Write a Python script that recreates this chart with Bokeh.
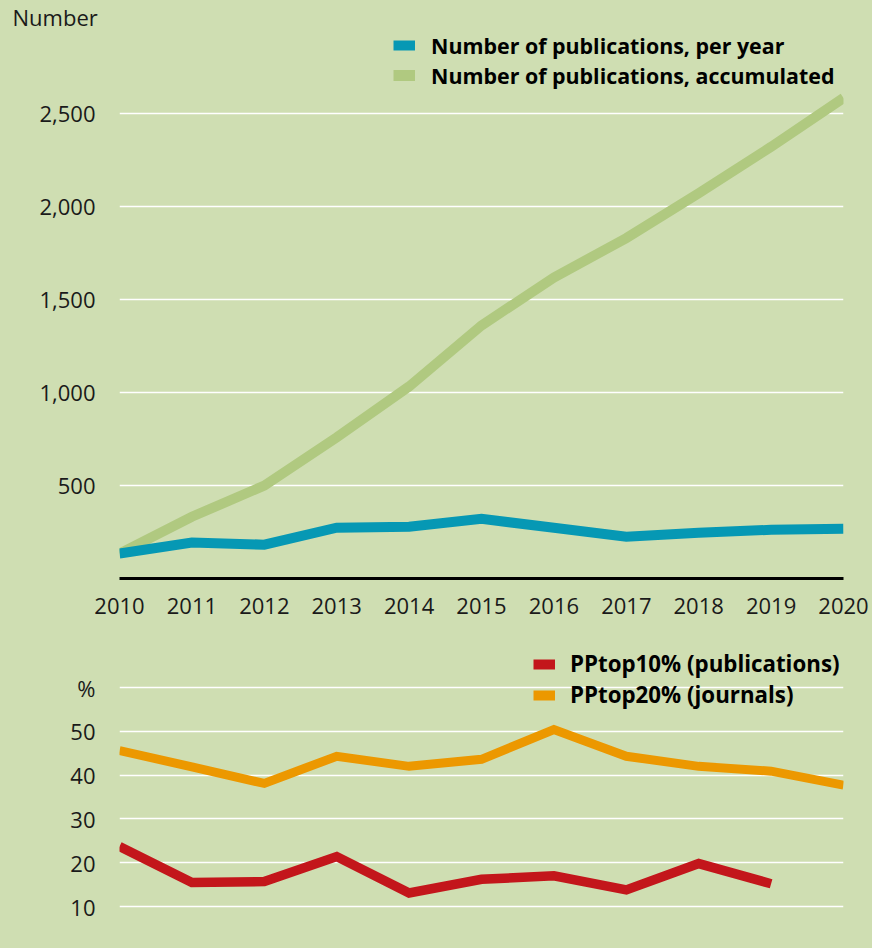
from bokeh.plotting import figure
from bokeh.layouts import column
from bokeh.models import (Range1d, FixedTicker, NumeralTickFormatter, Legend,
                          LegendItem, ColumnDataSource)
from bokeh.embed import file_html
from bokeh.resources import INLINE

# ---------------- data ----------------
years = [2010, 2011, 2012, 2013, 2014, 2015, 2016, 2017, 2018, 2019, 2020]
pubs_per_year = [134, 193, 182, 273, 278, 321, 273, 225, 246, 262, 267]
pubs_accum = [134, 332, 500, 759, 1033, 1361, 1619, 1831, 2072, 2322, 2585]
pp_years = [2010, 2011, 2012, 2013, 2014, 2015, 2016, 2017, 2018, 2019]
pptop10 = [23.7, 15.5, 15.7, 21.4, 13.1, 16.2, 17.0, 13.8, 19.8, 15.2]
pptop20 = [45.6, 41.9, 38.1, 44.3, 42.0, 43.6, 50.4, 44.3, 42.0, 40.9, 37.7]
top_ticks = [500, 1000, 1500, 2000, 2500]
bottom_ticks = [10, 20, 30, 40, 50, 60]
bottom_tick_labels = ["10", "20", "30", "40", "50", "%"]
top_labels = ["Number of publications, per year", "Number of publications, accumulated"]
bottom_labels = ["PPtop10% (publications)", "PPtop20% (journals)"]
top_axis_title = "Number"

BG = "#cfdeb2"
BLUE = "#0698b4"
GREEN = "#b0c980"
RED = "#c3161b"
ORANGE = "#ec9800"
FONT = "Open Sans"
TXT = "#1a1a1a"

W = 872


def style(p):
    p.background_fill_color = None
    p.border_fill_color = BG
    p.outline_line_color = None
    p.xgrid.grid_line_color = None
    p.ygrid.grid_line_color = "white"
    p.ygrid.grid_line_width = 1.5
    for ax in p.yaxis:
        ax.axis_line_color = None
        ax.major_tick_line_color = None
        ax.minor_tick_line_color = None
        ax.major_label_text_font = FONT
        ax.major_label_text_font_size = "22px"
        ax.major_label_text_color = TXT
        ax.major_label_standoff = 18


def style_legend(leg, size):
    leg.padding = 0
    leg.margin = 0
    leg.spacing = 0
    leg.glyph_width = 22
    leg.glyph_height = 30
    leg.label_height = 30
    leg.label_standoff = 15
    leg.label_text_font = FONT
    leg.label_text_font_style = "bold"
    leg.label_text_font_size = size
    leg.label_text_color = "black"
    leg.background_fill_alpha = 0
    leg.border_line_color = None


# ---------------- top figure ----------------
p1 = figure(width=W, height=630, output_backend="svg", toolbar_location=None,
            x_range=Range1d(2010, 2020), y_range=Range1d(0, 2937),
            min_border_left=119, min_border_right=29, min_border_top=30,
            min_border_bottom=52)
style(p1)
p1.title.text = top_axis_title
p1.title.align = "left"
p1.title.offset = -107
p1.title.standoff = 0
p1.title.text_font = FONT
p1.title.text_font_style = "normal"
p1.title.text_font_size = "22px"
p1.title.text_color = TXT
p1.title.text_line_height = 0.8
p1.title.vertical_align = "middle"

p1.yaxis.ticker = FixedTicker(ticks=top_ticks)
p1.yaxis.formatter = NumeralTickFormatter(format="0,0")
p1.xaxis.ticker = FixedTicker(ticks=years)
p1.xaxis.major_label_overrides = {y: str(y) for y in years}
p1.xaxis.axis_line_color = "black"
p1.xaxis.axis_line_width = 3
p1.xaxis.major_tick_line_color = None
p1.xaxis.minor_tick_line_color = None
p1.xaxis.major_label_text_font = FONT
p1.xaxis.major_label_text_font_size = "22px"
p1.xaxis.major_label_text_color = TXT
p1.xaxis.major_label_standoff = 13

src1 = ColumnDataSource(dict(x=years, per=pubs_per_year, acc=pubs_accum))
p1.line("x", "acc", source=src1, line_color=GREEN, line_width=10, line_join="miter")
p1.line("x", "per", source=src1, line_color=BLUE, line_width=10, line_join="miter")

# legend proxies
lb = p1.line([float("nan")], [float("nan")], line_color=BLUE, line_width=10)
lg = p1.line([float("nan")], [float("nan")], line_color=GREEN, line_width=11)
leg1 = Legend(items=[LegendItem(label=top_labels[0], renderers=[lb]),
                     LegendItem(label=top_labels[1], renderers=[lg])],
              location=(274, 488))
style_legend(leg1, "21.4px")
leg1.label_standoff = 16
p1.add_layout(leg1, "center")

# ---------------- bottom figure ----------------
p2 = figure(width=W, height=318, output_backend="svg", toolbar_location=None,
            x_range=Range1d(2010, 2020), y_range=Range1d(3.38, 69.59),
            min_border_left=119, min_border_right=29, min_border_top=15,
            min_border_bottom=13)
style(p2)
p2.xaxis.visible = False
p2.yaxis.ticker = FixedTicker(ticks=bottom_ticks)
p2.yaxis.major_label_overrides = {t: l for t, l in zip(bottom_ticks, bottom_tick_labels)}

p2.line(years, pptop20, line_color=ORANGE, line_width=9, line_join="miter")
p2.line(pp_years, pptop10, line_color=RED, line_width=9.5, line_join="miter")

lr = p2.line([float("nan")], [float("nan")], line_color=RED, line_width=10)
lo = p2.line([float("nan")], [float("nan")], line_color=ORANGE, line_width=10)
leg2 = Legend(items=[LegendItem(label=bottom_labels[0], renderers=[lr]),
                     LegendItem(label=bottom_labels[1], renderers=[lo])],
              location=(414, 225))
style_legend(leg2, "22.3px")
p2.add_layout(leg2, "center")

layout = column(p1, p2, spacing=0, styles={"background-color": BG})
open("out.html", "w").write(file_html(layout, INLINE))
